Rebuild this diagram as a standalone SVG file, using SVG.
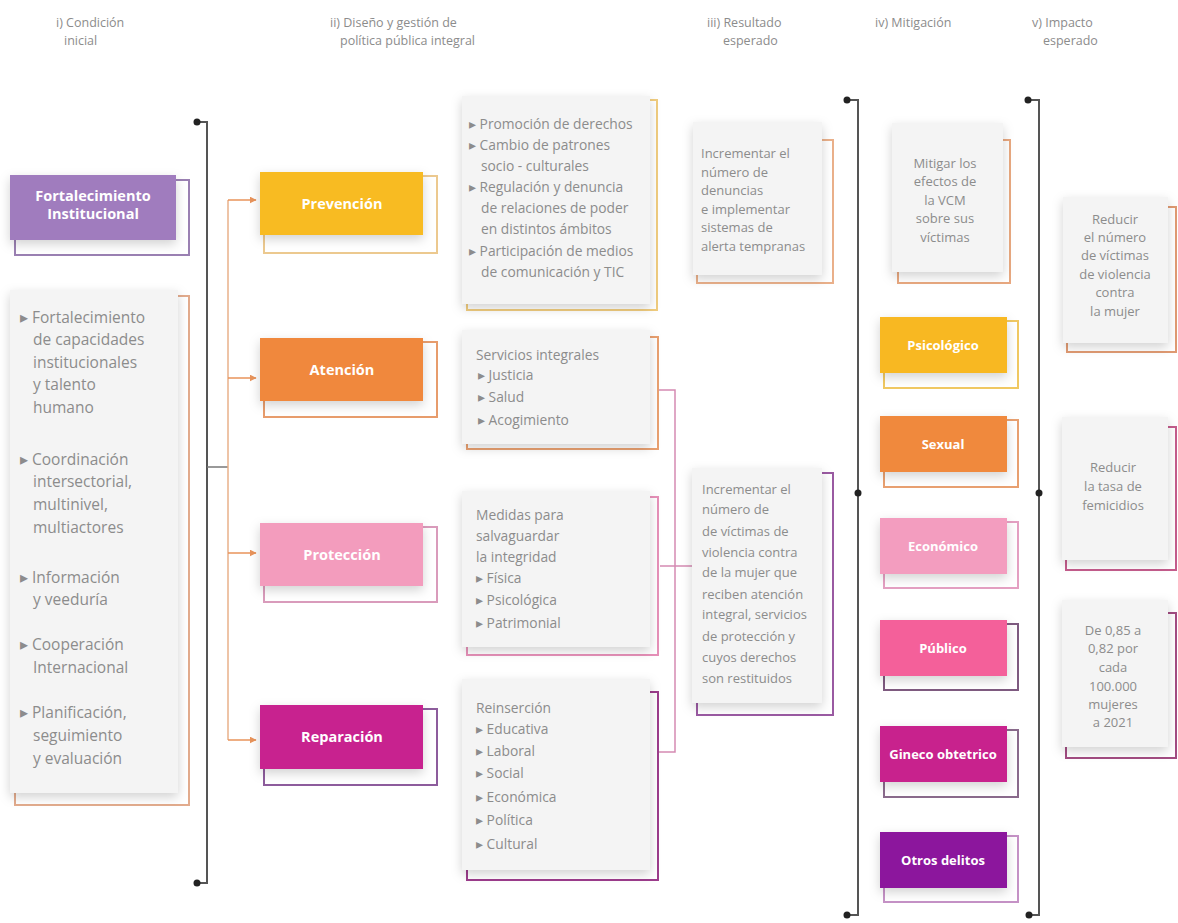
<svg xmlns="http://www.w3.org/2000/svg" width="1178" height="923" viewBox="0 0 1178 923">
  <defs>
    <filter id="sh" x="-20%" y="-20%" width="140%" height="150%">
      <feDropShadow dx="0" dy="4" stdDeviation="5.5" flood-color="#000" flood-opacity="0.18"/>
    </filter>
    <marker id="arr" viewBox="0 0 10 10" refX="9" refY="5" markerWidth="7" markerHeight="7" orient="auto" markerUnits="userSpaceOnUse">
      <path d="M0,0 L10,5 L0,10 z" fill="#e8935a"/>
    </marker>
  </defs>
  <style>
    text { font-family: "Open Sans", "Noto Sans", "Liberation Sans", sans-serif; fill: #8c8c8c; }
    .hd { font-size: 12.5px; }
    .lst { font-size: 15.5px; }
    .det { font-size: 13.8px; }
    .sm { font-size: 13px; }
    .lbl { font-size: 14.5px; font-weight: bold; fill: #fff; text-anchor: middle; }
    .mlbl { font-size: 13px; font-weight: bold; fill: #fff; text-anchor: middle; }
    .mid { text-anchor: middle; }
    .card { fill: #f4f4f4; filter: url(#sh); }
    .solid { filter: url(#sh); }
    .brk { fill: none; stroke-width: 2; }
    .rail { fill: none; stroke: #555; stroke-width: 2; }
    .dot { fill: #222; }
  </style>

  <rect width="1178" height="923" fill="#fff"/>

  <!-- column headings -->
  <g id="headings">
    <text class="hd" x="56" y="27">i) Condición</text>
    <text class="hd" x="64" y="45">inicial</text>
    <text class="hd" x="330" y="27">ii) Diseño y gestión de</text>
    <text class="hd" x="340" y="45">política pública integral</text>
    <text class="hd" x="707" y="27">iii) Resultado</text>
    <text class="hd" x="723" y="45">esperado</text>
    <text class="hd" x="875" y="27">iv) Mitigación</text>
    <text class="hd" x="1032" y="27">v) Impacto</text>
    <text class="hd" x="1043" y="45">esperado</text>
  </g>

  <!-- connectors -->
  <g id="connectors">
    <path class="rail" d="M197,122 H207 V883 H197"/>
    <circle class="dot" cx="197" cy="122" r="3.5"/>
    <circle class="dot" cx="197" cy="883" r="3.5"/>
    <path d="M207,467 H228" stroke="#777" stroke-width="1.5"/>
    <path d="M228,200 V740" stroke="#e8b08a" stroke-width="1.5" fill="none"/>
    <path d="M228,200 H256" stroke="#e8935a" stroke-width="1.5" marker-end="url(#arr)"/>
    <path d="M228,378 H256" stroke="#e8935a" stroke-width="1.5" marker-end="url(#arr)"/>
    <path d="M228,553 H256" stroke="#e8935a" stroke-width="1.5" marker-end="url(#arr)"/>
    <path d="M228,740 H256" stroke="#e8935a" stroke-width="1.5" marker-end="url(#arr)"/>

    <path d="M658,390 H675 V752 H658" stroke="#d58ab2" stroke-width="1.5" fill="none"/>
    <path d="M660,566 H692" stroke="#d58ab2" stroke-width="1.5"/>

    <path class="rail" d="M847,100 H858 V915 H847"/>
    <circle class="dot" cx="847" cy="100" r="3.5"/>
    <circle class="dot" cx="858" cy="493" r="3.5"/>
    <circle class="dot" cx="847" cy="915" r="3.5"/>

    <path class="rail" d="M1028,100 H1039 V915 H1029"/>
    <circle class="dot" cx="1028" cy="100" r="3.5"/>
    <circle class="dot" cx="1039" cy="493" r="3.5"/>
    <circle class="dot" cx="1029" cy="915" r="3.5"/>
  </g>

  <!-- i) initial condition -->
  <g id="fortalecimiento">
    <rect class="brk" x="15" y="180" width="174" height="75" stroke="#9a80b2"/>
    <rect class="solid" x="10" y="175" width="166" height="65" fill="#a07cbe"/>
    <text class="lbl" x="93" y="201">Fortalecimiento</text>
    <text class="lbl" x="93" y="219">Institucional</text>
  </g>

  <g id="condiciones">
    <rect class="brk" x="15" y="296" width="174" height="509" stroke="#e2ab8d"/>
    <rect class="card" x="10" y="290" width="168" height="503"/>
    <text class="lst" x="20" y="323">▸ Fortalecimiento</text>
    <text class="lst" x="33" y="345">de capacidades</text>
    <text class="lst" x="33" y="368">institucionales</text>
    <text class="lst" x="33" y="390">y talento</text>
    <text class="lst" x="33" y="413">humano</text>
    <text class="lst" x="20" y="465">▸ Coordinación</text>
    <text class="lst" x="33" y="487">intersectorial,</text>
    <text class="lst" x="33" y="510">multinivel,</text>
    <text class="lst" x="33" y="533">multiactores</text>
    <text class="lst" x="20" y="583">▸ Información</text>
    <text class="lst" x="33" y="605">y veeduría</text>
    <text class="lst" x="20" y="650">▸ Cooperación</text>
    <text class="lst" x="33" y="673">Internacional</text>
    <text class="lst" x="20" y="718">▸ Planificación,</text>
    <text class="lst" x="33" y="741">seguimiento</text>
    <text class="lst" x="33" y="764">y evaluación</text>
  </g>

  <!-- ii) policy axes -->
  <g id="prevencion">
    <rect class="brk" x="264" y="176" width="173" height="77" stroke="#ecc98f"/>
    <rect class="solid" x="260" y="172" width="163" height="63" fill="#f8bb22"/>
    <text class="lbl" x="342" y="209">Prevención</text>
  </g>
  <g id="atencion">
    <rect class="brk" x="264" y="342" width="173" height="75" stroke="#e79c6c"/>
    <rect class="solid" x="260" y="338" width="163" height="63" fill="#f0883c"/>
    <text class="lbl" x="342" y="375">Atención</text>
  </g>
  <g id="proteccion">
    <rect class="brk" x="264" y="527" width="173" height="75" stroke="#d99bbb"/>
    <rect class="solid" x="260" y="523" width="163" height="63" fill="#f39cbd"/>
    <text class="lbl" x="342" y="560">Protección</text>
  </g>
  <g id="reparacion">
    <rect class="brk" x="264" y="709" width="173" height="76" stroke="#8d5c9c"/>
    <rect class="solid" x="260" y="705" width="163" height="64" fill="#c8228f"/>
    <text class="lbl" x="342" y="742">Reparación</text>
  </g>

  <g id="prevencion-detalle">
    <rect class="brk" x="467" y="100" width="190" height="210" stroke="#f0cc7e"/>
    <rect class="card" x="462" y="96" width="188" height="208"/>
    <text class="det" x="469" y="129">▸ Promoción de derechos</text>
    <text class="det" x="469" y="150">▸ Cambio de patrones</text>
    <text class="det" x="481" y="171">socio - culturales</text>
    <text class="det" x="469" y="192">▸ Regulación y denuncia</text>
    <text class="det" x="481" y="213">de relaciones de poder</text>
    <text class="det" x="481" y="234">en distintos ámbitos</text>
    <text class="det" x="469" y="256">▸ Participación de medios</text>
    <text class="det" x="481" y="277">de comunicación y TIC</text>
  </g>
  <g id="atencion-detalle">
    <rect class="brk" x="467" y="337" width="191" height="112" stroke="#e9a070"/>
    <rect class="card" x="462" y="330" width="188" height="114"/>
    <text class="det" x="476" y="360">Servicios integrales</text>
    <text class="det" x="478" y="380">▸ Justicia</text>
    <text class="det" x="478" y="402">▸ Salud</text>
    <text class="det" x="478" y="425">▸ Acogimiento</text>
  </g>
  <g id="proteccion-detalle">
    <rect class="brk" x="467" y="497" width="191" height="158" stroke="#e690b8"/>
    <rect class="card" x="462" y="491" width="188" height="156"/>
    <text class="det" x="476" y="520">Medidas para</text>
    <text class="det" x="476" y="541">salvaguardar</text>
    <text class="det" x="476" y="562">la integridad</text>
    <text class="det" x="476" y="583">▸ Física</text>
    <text class="det" x="476" y="605">▸ Psicológica</text>
    <text class="det" x="476" y="628">▸ Patrimonial</text>
  </g>
  <g id="reparacion-detalle">
    <rect class="brk" x="467" y="692" width="191" height="188" stroke="#9c3c8c"/>
    <rect class="card" x="462" y="679" width="188" height="191"/>
    <text class="det" x="476" y="713">Reinserción</text>
    <text class="det" x="476" y="734">▸ Educativa</text>
    <text class="det" x="476" y="756">▸ Laboral</text>
    <text class="det" x="476" y="778">▸ Social</text>
    <text class="det" x="476" y="802">▸ Económica</text>
    <text class="det" x="476" y="825">▸ Política</text>
    <text class="det" x="476" y="849">▸ Cultural</text>
  </g>

  <!-- iii) expected results -->
  <g id="resultado-1">
    <rect class="brk" x="697" y="140" width="136" height="143" stroke="#eab08a"/>
    <rect class="card" x="693" y="122" width="129" height="153"/>
    <text class="sm" x="701" y="158">Incrementar el</text>
    <text class="sm" x="701" y="177">número de</text>
    <text class="sm" x="701" y="195">denuncias</text>
    <text class="sm" x="701" y="214">e implementar</text>
    <text class="sm" x="701" y="232">sistemas de</text>
    <text class="sm" x="701" y="251">alerta tempranas</text>
  </g>
  <g id="resultado-2">
    <rect class="brk" x="697" y="473" width="136" height="242" stroke="#9a5aa2"/>
    <rect class="card" x="692" y="468" width="130" height="235"/>
    <text class="sm" x="702" y="494">Incrementar el</text>
    <text class="sm" x="702" y="514">número de</text>
    <text class="sm" x="702" y="536">de víctimas de</text>
    <text class="sm" x="702" y="557">violencia contra</text>
    <text class="sm" x="702" y="577">de la mujer que</text>
    <text class="sm" x="702" y="599">reciben atención</text>
    <text class="sm" x="702" y="619">integral, servicios</text>
    <text class="sm" x="702" y="641">de protección y</text>
    <text class="sm" x="702" y="662">cuyos  derechos</text>
    <text class="sm" x="702" y="683">son restituidos</text>
  </g>

  <!-- iv) mitigation -->
  <g id="mitigar">
    <rect class="brk" x="898" y="140" width="112" height="143" stroke="#e8a880"/>
    <rect class="card" x="892" y="123" width="111" height="149"/>
    <text class="sm mid" x="945" y="168">Mitigar los</text>
    <text class="sm mid" x="945" y="186">efectos de</text>
    <text class="sm mid" x="945" y="205">la VCM</text>
    <text class="sm mid" x="945" y="223">sobre sus</text>
    <text class="sm mid" x="945" y="242">víctimas</text>
  </g>
  <g id="psicologico">
    <rect class="brk" x="884" y="321" width="134" height="67" stroke="#f0c862"/>
    <rect class="solid" x="880" y="317" width="127" height="56" fill="#f8b824"/>
    <text class="mlbl" x="943" y="350">Psicológico</text>
  </g>
  <g id="sexual">
    <rect class="brk" x="884" y="420" width="134" height="67" stroke="#e8a070"/>
    <rect class="solid" x="880" y="416" width="127" height="56" fill="#f0893c"/>
    <text class="mlbl" x="943" y="449">Sexual</text>
  </g>
  <g id="economico">
    <rect class="brk" x="884" y="522" width="134" height="66" stroke="#e4a0c2"/>
    <rect class="solid" x="880" y="518" width="127" height="56" fill="#f39dbf"/>
    <text class="mlbl" x="943" y="551">Económico</text>
  </g>
  <g id="publico">
    <rect class="brk" x="884" y="624" width="134" height="66" stroke="#7e5a80"/>
    <rect class="solid" x="880" y="620" width="127" height="56" fill="#f4609a"/>
    <text class="mlbl" x="943" y="653">Público</text>
  </g>
  <g id="gineco">
    <rect class="brk" x="884" y="730" width="134" height="67" stroke="#8a6a8c"/>
    <rect class="solid" x="880" y="726" width="127" height="56" fill="#c8228d"/>
    <text class="mlbl" x="943" y="759">Gineco obtetrico</text>
  </g>
  <g id="otros">
    <rect class="brk" x="884" y="836" width="134" height="66" stroke="#c592c6"/>
    <rect class="solid" x="880" y="832" width="127" height="56" fill="#8c199d"/>
    <text class="mlbl" x="943" y="865">Otros delitos</text>
  </g>

  <!-- v) expected impact -->
  <g id="impacto-1">
    <rect class="brk" x="1067" y="207" width="109" height="145" stroke="#e09a72"/>
    <rect class="card" x="1063" y="197" width="105" height="146"/>
    <text class="sm mid" x="1115" y="224">Reducir</text>
    <text class="sm mid" x="1115" y="242">el número</text>
    <text class="sm mid" x="1115" y="260">de víctimas</text>
    <text class="sm mid" x="1115" y="279">de violencia</text>
    <text class="sm mid" x="1115" y="297">contra</text>
    <text class="sm mid" x="1115" y="316">la mujer</text>
  </g>
  <g id="impacto-2">
    <rect class="brk" x="1066" y="427" width="110" height="143" stroke="#c45c8c"/>
    <rect class="card" x="1062" y="417" width="106" height="143"/>
    <text class="sm mid" x="1113" y="472">Reducir</text>
    <text class="sm mid" x="1113" y="491">la tasa de</text>
    <text class="sm mid" x="1113" y="510">femicidios</text>
  </g>
  <g id="impacto-3">
    <rect class="brk" x="1066" y="613" width="110" height="145" stroke="#a24c82"/>
    <rect class="card" x="1062" y="600" width="106" height="147"/>
    <text class="sm mid" x="1113" y="635">De 0,85 a</text>
    <text class="sm mid" x="1113" y="653">0,82 por</text>
    <text class="sm mid" x="1113" y="672">cada</text>
    <text class="sm mid" x="1113" y="691">100.000</text>
    <text class="sm mid" x="1113" y="709">mujeres</text>
    <text class="sm mid" x="1113" y="727">a 2021</text>
  </g>
</svg>
